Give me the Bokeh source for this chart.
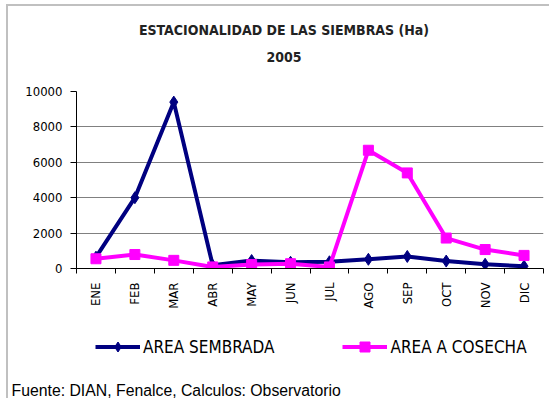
import math
import numpy as np
from bokeh.plotting import figure
from bokeh.layouts import column
from bokeh.models import Range1d, FixedTicker, Legend, LegendItem, Title, Label
from bokeh.embed import file_html
from bokeh.resources import INLINE

months = ["ENE", "FEB", "MAR", "ABR", "MAY", "JUN", "JUL", "AGO", "SEP", "OCT", "NOV", "DIC"]
sembrada = [640, 4000, 9400, 180, 450, 350, 380, 520, 680, 420, 240, 130]
cosecha = [550, 790, 460, 90, 220, 270, 90, 6680, 5400, 1720, 1070, 740]
y_ticks = [0, 2000, 4000, 6000, 8000, 10000]
series_names = ["AREA SEMBRADA", "AREA A COSECHA"]
series_colors = ["#000080", "#FF00FF"]
title_text = "ESTACIONALIDAD DE LAS SIEMBRAS (Ha)"
subtitle_text = "2005"
source_text = "Fuente: DIAN, Fenalce, Calculos: Observatorio"

NARROW = "DejaVu Sans Condensed"
W = 549
FL, FR = 76, 543          # frame left / right (canvas px)
HT, HP, HQ = 70, 245, 83  # strip heights
x = list(np.arange(len(months)) + 0.5)

# ---- top strip: titles
t = figure(width=W, height=HT, output_backend="svg", toolbar_location=None,
           x_range=Range1d(FL, FR), y_range=Range1d(HT, 0),
           min_border_left=FL, min_border_right=W - FR, min_border_top=0, min_border_bottom=0,
           x_axis_location=None, y_axis_location=None)
t.outline_line_color = None
t.background_fill_color = None
t.border_fill_color = None
t.grid.grid_line_color = None
for txt, yy in [(title_text, 29.5), (subtitle_text, 56)]:
    t.add_layout(Label(x=(FL + FR) / 2 - 26, y=yy, text=txt, text_align="center",
                       text_baseline="middle", text_font=NARROW, text_font_style="bold",
                       text_font_size="14px", text_color="#222222"))

# ---- main chart
p = figure(width=W, height=HP, output_backend="svg", toolbar_location=None,
           x_range=Range1d(0, len(months)), y_range=Range1d(0, 10000),
           min_border_left=FL, min_border_right=W - FR, min_border_top=21, min_border_bottom=47)
p.outline_line_color = None
p.background_fill_color = "white"
p.border_fill_color = None
p.xgrid.grid_line_color = None
p.ygrid.grid_line_color = "#808080"
p.ygrid.ticker = FixedTicker(ticks=y_ticks)

p.yaxis.ticker = FixedTicker(ticks=y_ticks)
p.yaxis.major_tick_out = 6
p.yaxis.major_tick_in = 0
p.yaxis.minor_tick_out = 0
p.yaxis.axis_line_color = "black"
p.yaxis.major_label_text_font = NARROW
p.yaxis.major_label_text_font_size = "13px"
p.yaxis.major_label_text_color = "black"
p.yaxis.major_label_standoff = 8

p.xaxis.ticker = FixedTicker(ticks=x, minor_ticks=list(range(len(months) + 1)))
p.xaxis.major_label_overrides = {float(xi): m for xi, m in zip(x, months)}
p.xaxis.major_tick_out = 0
p.xaxis.major_tick_in = 0
p.xaxis.minor_tick_out = 5
p.xaxis.minor_tick_in = 0
p.xaxis.minor_tick_line_color = "black"
p.xaxis.axis_line_color = "black"
p.xaxis.major_label_orientation = math.pi / 2
p.xaxis.major_label_text_font = NARROW
p.xaxis.major_label_text_font_size = "13px"
p.xaxis.major_label_text_color = "black"
p.xaxis.major_label_standoff = 9

p.line(x, sembrada, line_color=series_colors[0], line_width=4)
p.scatter(x, sembrada, marker="diamond", size=12, color=series_colors[0])
p.line(x, cosecha, line_color=series_colors[1], line_width=4)
p.scatter(x, cosecha, marker="square", size=10, color=series_colors[1])

# ---- bottom strip: legend and source note
q = figure(width=W, height=HQ, output_backend="svg", toolbar_location=None,
           x_range=Range1d(FL, FR), y_range=Range1d(0, 1),
           min_border_left=FL, min_border_right=W - FR, min_border_top=0, min_border_bottom=0,
           x_axis_location=None, y_axis_location=None)
q.outline_line_color = None
q.background_fill_color = None
q.border_fill_color = None
q.grid.grid_line_color = None

nan = [float("nan")]
l1 = q.line(nan, nan, line_color=series_colors[0], line_width=4)
m1 = q.scatter(nan, nan, marker="diamond", size=12, color=series_colors[0])
l2 = q.line(nan, nan, line_color=series_colors[1], line_width=4)
m2 = q.scatter(nan, nan, marker="square", size=10, color=series_colors[1])

legend = Legend(items=[LegendItem(label=series_names[0], renderers=[l1, m1]),
                       LegendItem(label=series_names[1], renderers=[l2, m2])],
                orientation="horizontal", location="top_left", glyph_width=45, glyph_height=25,
                label_standoff=3, spacing=68, padding=0, margin=19,
                border_line_alpha=0, background_fill_alpha=0,
                label_text_font=NARROW, label_text_font_size="17px", label_text_color="black")
q.add_layout(legend, "center")

footer = Title(text=source_text, align="left", text_font="Liberation Sans",
               text_font_style="normal", text_font_size="15.8px", text_color="black",
               offset=-(FL - 11), standoff=0)
q.add_layout(footer, "below")

layout = column(t, p, q, spacing=0)
layout.styles = {"background": "linear-gradient(#c0c0c0,#c0c0c0) 6px 4px / 543px 2px no-repeat, "
                               "linear-gradient(#c0c0c0,#c0c0c0) 6px 4px / 2px 394px no-repeat, #ffffff"}

open("out.html", "w").write(file_html(layout, INLINE))
